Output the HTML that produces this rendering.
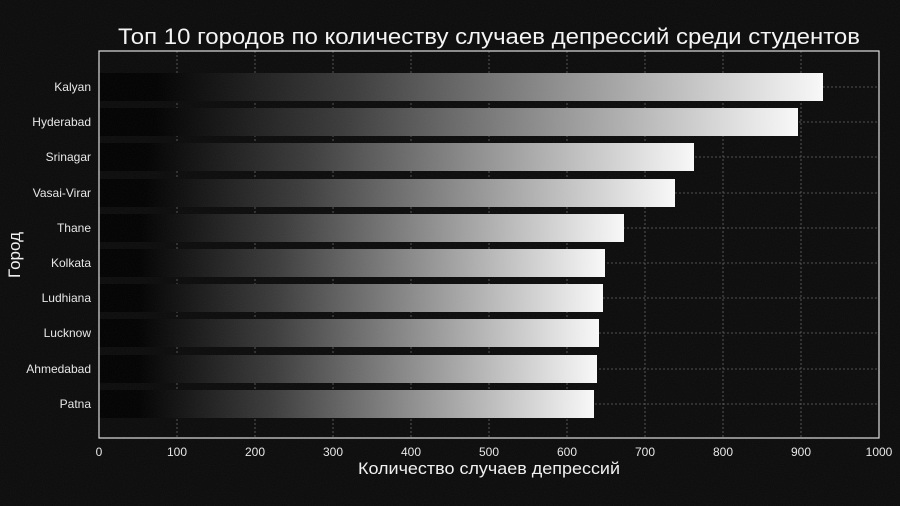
<!DOCTYPE html>
<html><head><meta charset="utf-8"><style>
html,body{margin:0;padding:0;background:#0a0a0a;}
svg{display:block;font-family:"Liberation Sans",sans-serif;}
</style></head><body>
<svg width="900" height="506" viewBox="0 0 900 506" xmlns="http://www.w3.org/2000/svg">
<defs>
<linearGradient id="g" x1="0" x2="1" y1="0" y2="0">
<stop offset="0" stop-color="#000"/>
<stop offset="0.08" stop-color="#000"/>
<stop offset="0.35" stop-color="#3a3a3a"/>
<stop offset="1" stop-color="#f8f8f8"/>
</linearGradient>
<filter id="n" x="0" y="0" width="100%" height="100%">
<feTurbulence type="fractalNoise" baseFrequency="0.9" numOctaves="1" seed="3"/>
<feColorMatrix type="matrix" values="0 0 0 0 1  0 0 0 0 1  0 0 0 0 1  0 0 0 0.05 0"/>
</filter>
</defs>
<rect width="900" height="506" fill="#0a0a0a"/>
<g stroke="#aaa" stroke-width="0.8" stroke-dasharray="2,2" opacity="0.55">
<line x1="177" y1="51" x2="177" y2="438"/><line x1="255" y1="51" x2="255" y2="438"/>
<line x1="333" y1="51" x2="333" y2="438"/><line x1="411" y1="51" x2="411" y2="438"/>
<line x1="489" y1="51" x2="489" y2="438"/><line x1="567" y1="51" x2="567" y2="438"/>
<line x1="645" y1="51" x2="645" y2="438"/><line x1="723" y1="51" x2="723" y2="438"/>
<line x1="801" y1="51" x2="801" y2="438"/>
<line x1="99" y1="87" x2="879" y2="87"/><line x1="99" y1="122" x2="879" y2="122"/>
<line x1="99" y1="157" x2="879" y2="157"/><line x1="99" y1="193" x2="879" y2="193"/>
<line x1="99" y1="228" x2="879" y2="228"/><line x1="99" y1="263" x2="879" y2="263"/>
<line x1="99" y1="298" x2="879" y2="298"/><line x1="99" y1="333" x2="879" y2="333"/>
<line x1="99" y1="369" x2="879" y2="369"/><line x1="99" y1="404" x2="879" y2="404"/>
</g>
<g fill="url(#g)">
<rect x="99" y="73" width="724" height="28"/>
<rect x="99" y="108" width="699" height="28"/>
<rect x="99" y="143" width="595" height="28"/>
<rect x="99" y="179" width="576" height="28"/>
<rect x="99" y="214" width="525" height="28"/>
<rect x="99" y="249" width="506" height="28"/>
<rect x="99" y="284" width="504" height="28"/>
<rect x="99" y="319" width="500" height="28"/>
<rect x="99" y="355" width="498" height="28"/>
<rect x="99" y="390" width="495" height="28"/>
</g>
<rect x="99" y="51" width="780" height="387" fill="none" stroke="#ddd" stroke-width="1.2"/>
<g fill="#e6e6e6" font-size="12" text-anchor="end">
<text x="91" y="91">Kalyan</text><text x="91" y="126">Hyderabad</text>
<text x="91" y="161">Srinagar</text><text x="91" y="197">Vasai-Virar</text>
<text x="91" y="232">Thane</text><text x="91" y="267">Kolkata</text>
<text x="91" y="302">Ludhiana</text><text x="91" y="337">Lucknow</text>
<text x="91" y="373">Ahmedabad</text><text x="91" y="408">Patna</text>
</g>
<g fill="#e6e6e6" font-size="12" text-anchor="middle">
<text x="99" y="456">0</text><text x="177" y="456">100</text><text x="255" y="456">200</text>
<text x="333" y="456">300</text><text x="411" y="456">400</text><text x="489" y="456">500</text>
<text x="567" y="456">600</text><text x="645" y="456">700</text><text x="723" y="456">800</text>
<text x="801" y="456">900</text><text x="879" y="456">1000</text>
</g>
<text x="358" y="474" fill="#f0f0f0" font-size="17" textLength="262" lengthAdjust="spacingAndGlyphs">Количество случаев депрессий</text>
<text transform="translate(20,255) rotate(-90)" fill="#f0f0f0" font-size="17" text-anchor="middle">Город</text>
<text x="118" y="44" fill="#f4f4f4" font-size="22" textLength="742" lengthAdjust="spacingAndGlyphs">Топ 10 городов по количеству случаев депрессий среди студентов</text>
<rect width="900" height="506" filter="url(#n)"/>
</svg>
</body></html>
